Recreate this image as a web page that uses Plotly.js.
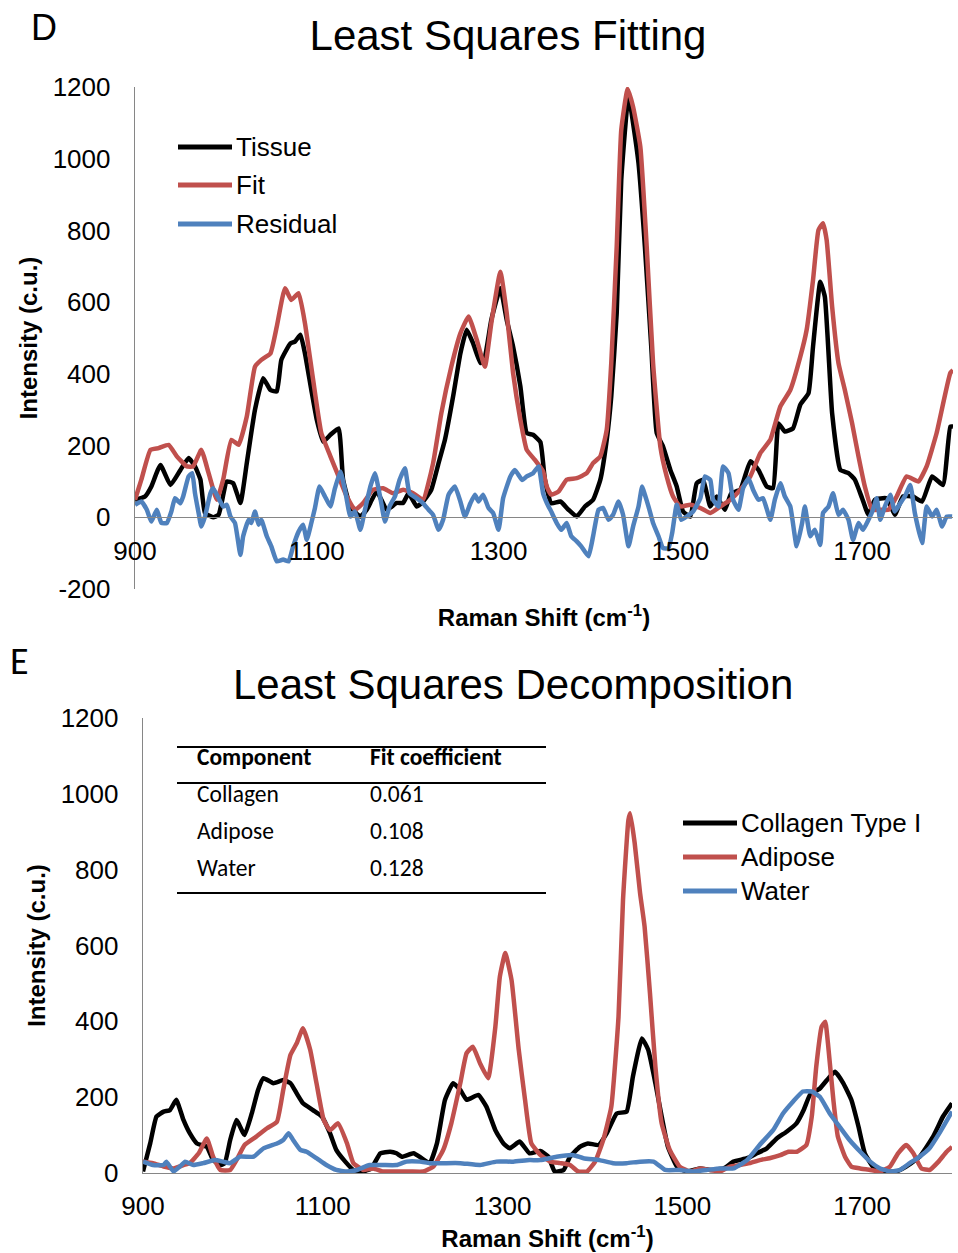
<!DOCTYPE html>
<html>
<head>
<meta charset="utf-8">
<script src="https://cdn.plot.ly/plotly-3.0.1.min.js"></script>
<style>html,body{margin:0;padding:0;background:#fff;}#chart{width:958px;height:1253px;}</style>
</head>
<body>
<div id="chart"></div>
<script>
// ---------- Panel D: Least Squares Fitting ----------
const tissueX = [900,911,918,928,939,950,959,966,972,977,986,992,1001,1008,1016,1023,1032,1041,1049,1056,1061,1071,1076,1082,1087,1094,1100,1107,1115,1124,1129,1137,1148,1155,1166,1177,1188,1195,1201,1210,1217,1226,1234,1241,1250,1258,1265,1272,1280,1285,1292,1302,1309,1316,1324,1331,1338,1346,1351,1358,1368,1377,1386,1395,1404,1412,1419,1424,1430,1435,1443,1448,1454,1461,1468,1474,1481,1489,1496,1503,1511,1518,1525,1533,1540,1549,1556,1566,1577,1586,1595,1602,1608,1615,1624,1632,1641,1646,1654,1659,1667,1676,1685,1692,1700,1707,1714,1727,1736,1745,1756,1766,1777,1789,1797,1800];
const tissueY = [49,58,86,146,90,132,165,142,105,12,0,7,100,95,40,151,300,388,355,351,439,485,490,509,457,355,272,211,230,248,104,30,2,21,72,21,40,40,67,30,44,77,151,216,337,457,523,485,430,448,550,639,550,476,365,235,230,210,105,39,44,21,2,30,49,105,216,337,569,941,1178,1099,987,755,476,235,197,132,86,16,2,95,105,30,58,21,67,77,156,132,86,81,262,239,248,314,346,476,657,615,290,132,123,105,53,7,49,53,7,58,58,44,114,90,253,253];

const fitX = [900,907,917,926,937,946,957,964,973,981,990,997,1006,1014,1023,1032,1039,1049,1056,1065,1072,1080,1087,1096,1105,1115,1124,1133,1142,1151,1162,1173,1184,1195,1206,1217,1228,1237,1248,1258,1267,1276,1285,1292,1302,1309,1316,1324,1331,1340,1349,1353,1358,1366,1375,1386,1397,1404,1412,1419,1424,1430,1435,1442,1448,1456,1463,1470,1478,1485,1492,1500,1511,1522,1533,1544,1555,1566,1577,1588,1599,1610,1621,1632,1639,1646,1652,1657,1661,1667,1674,1681,1689,1696,1703,1711,1720,1729,1738,1749,1762,1771,1782,1797,1800];
const fitY = [49,105,188,193,202,170,142,142,188,123,49,105,216,202,281,420,439,457,532,639,606,625,541,383,235,170,114,58,21,40,77,81,67,77,67,49,151,290,420,513,560,495,420,541,685,569,402,272,188,160,128,86,63,72,105,109,123,151,170,244,430,755,1080,1195,1145,1033,755,430,197,114,58,30,35,26,12,30,49,77,114,179,216,309,355,448,523,662,801,820,773,588,430,355,262,170,86,21,21,21,58,114,100,142,235,402,410];

const residualX = [900,907,913,918,924,929,935,940,944,950,953,959,963,966,970,973,977,983,986,992,997,1001,1005,1010,1016,1019,1025,1028,1032,1036,1039,1045,1050,1056,1063,1069,1074,1080,1085,1089,1094,1098,1103,1109,1115,1120,1126,1131,1137,1142,1148,1153,1159,1164,1170,1175,1180,1186,1191,1197,1202,1210,1217,1223,1228,1234,1239,1245,1252,1258,1263,1269,1274,1278,1283,1289,1294,1300,1305,1313,1318,1326,1331,1338,1344,1349,1355,1357,1364,1369,1375,1380,1386,1391,1399,1404,1410,1415,1421,1426,1432,1437,1443,1448,1454,1458,1461,1465,1470,1476,1481,1487,1491,1496,1501,1507,1514,1522,1527,1533,1536,1542,1547,1553,1558,1564,1569,1575,1580,1586,1591,1599,1604,1610,1615,1621,1628,1634,1637,1643,1648,1654,1657,1663,1668,1674,1679,1685,1690,1696,1701,1707,1712,1716,1720,1725,1731,1736,1742,1747,1753,1758,1766,1771,1777,1782,1788,1793,1799];
const residualY = [35,44,21,-12,21,-16,-16,16,53,39,58,114,123,67,12,-26,2,67,81,53,30,35,2,-16,-105,-53,-7,-16,16,-21,-7,-53,-81,-123,-118,-123,-81,-40,-21,-63,-16,26,86,58,30,81,128,77,2,16,-35,21,86,123,53,-12,30,58,104,137,67,53,39,21,7,-35,-7,63,86,44,2,39,63,44,63,26,12,-35,53,114,132,104,114,123,142,67,30,21,-16,-35,-16,-53,-67,-81,-109,-53,21,26,-7,7,44,7,-81,-26,30,86,63,30,-16,-53,-86,-86,-44,35,-7,2,16,53,114,104,49,30,142,123,49,21,81,109,77,49,53,-7,49,95,58,30,-81,-16,30,-53,-35,-77,12,30,67,7,21,-7,-63,-16,-35,-7,21,53,-7,30,63,16,39,58,90,12,-72,30,2,21,-26,2,2];

// ---------- Panel E: Least Squares Decomposition ----------
const collagenX = [900,908,915,923,930,937,945,952,960,971,978,986,991,997,1004,1013,1021,1028,1034,1045,1056,1064,1071,1078,1089,1099,1108,1115,1125,1134,1145,1154,1164,1175,1182,1188,1201,1210,1219,1227,1236,1245,1253,1260,1273,1282,1292,1301,1308,1319,1330,1342,1351,1358,1368,1375,1386,1395,1407,1416,1427,1438,1445,1455,1462,1470,1477,1484,1494,1505,1520,1531,1546,1557,1572,1583,1594,1605,1616,1627,1635,1642,1653,1664,1670,1679,1688,1696,1703,1712,1723,1738,1749,1764,1779,1790,1800];
const collagenY = [4,78,149,162,166,193,140,105,78,69,34,21,26,87,140,100,157,219,250,237,245,237,210,184,166,149,105,61,30,8,4,12,52,56,52,43,52,39,26,78,193,237,219,193,206,175,113,78,65,83,52,58,43,4,8,43,69,78,74,105,157,162,254,355,325,237,149,69,17,4,12,8,12,30,39,52,65,91,109,131,166,206,223,254,267,237,193,122,52,17,4,4,17,43,96,149,184];

const adiposeX = [900,911,923,934,945,952,962,971,978,986,997,1004,1013,1026,1038,1049,1056,1064,1071,1078,1086,1093,1101,1108,1117,1127,1134,1145,1156,1167,1182,1197,1212,1223,1234,1243,1253,1260,1267,1275,1284,1292,1297,1303,1310,1318,1325,1332,1342,1353,1364,1375,1384,1394,1403,1412,1421,1429,1434,1440,1442,1447,1453,1458,1464,1470,1477,1486,1497,1508,1520,1531,1542,1553,1564,1575,1586,1597,1609,1618,1627,1638,1644,1649,1655,1659,1662,1668,1673,1681,1688,1698,1709,1720,1731,1740,1749,1757,1766,1775,1785,1794,1800];
const adiposeY = [30,26,17,12,21,26,52,91,43,8,8,34,74,96,118,135,219,311,342,382,325,237,140,113,131,78,26,8,12,4,4,4,4,17,61,131,237,316,333,289,250,386,518,580,509,325,193,78,48,30,26,21,4,4,30,87,175,412,720,931,949,870,738,650,474,281,131,61,17,4,12,8,4,17,21,26,34,39,47,56,56,74,149,281,386,399,342,193,96,43,17,12,8,4,17,52,74,52,12,8,30,56,69];

const waterX = [900,911,923,926,934,941,947,956,967,980,989,997,1008,1023,1034,1049,1056,1062,1067,1075,1082,1093,1104,1115,1127,1138,1152,1167,1182,1193,1208,1219,1234,1253,1275,1293,1312,1330,1342,1360,1379,1390,1408,1423,1438,1453,1468,1481,1497,1512,1527,1542,1557,1572,1586,1601,1612,1623,1634,1644,1653,1664,1675,1686,1698,1709,1720,1731,1742,1753,1764,1775,1786,1800];
const waterY = [30,21,21,30,4,17,30,21,26,34,30,26,43,43,65,78,87,105,87,61,56,39,21,8,4,8,21,21,21,30,30,26,26,26,21,30,30,34,34,43,47,39,34,26,26,30,30,8,8,4,8,12,12,34,74,113,157,188,215,215,201,157,122,87,56,30,12,4,8,26,43,65,105,162];

const tableComponents = ['Collagen','Adipose','Water'];
const tableCoefficients = ['0.061','0.108','0.128'];
const xTicks = [900,1100,1300,1500,1700];
const yTicksD = [-200,0,200,400,600,800,1000,1200];
const yTicksE = [0,200,400,600,800,1000,1200];

// ---------- Styling ----------
const W = 958, H = 1253;
const px = v => v / W;
const py = v => 1 - v / H;
const BLACK = '#000000', RED = '#C0504D', BLUE = '#4F81BD', AXIS = '#868686';
const SANS = 'Liberation Sans, Arial, sans-serif';
const CAL = 'Carlito, Lato, sans-serif';
const LW = 4.5;

function tr(x, y, name, color, xa, ya) {
  return {x: x, y: y, name: name, type: 'scatter', mode: 'lines', xaxis: xa, yaxis: ya,
    line: {color: color, width: LW, shape: 'spline', smoothing: 0.4}, showlegend: false, hoverinfo: 'skip'};
}

const data = [
  tr(tissueX, tissueY, 'Tissue', BLACK, 'x', 'y'),
  tr(fitX, fitY, 'Fit', RED, 'x', 'y'),
  tr(residualX, residualY, 'Residual', BLUE, 'x', 'y'),
  tr(collagenX, collagenY, 'Collagen Type I', BLACK, 'x2', 'y2'),
  tr(adiposeX, adiposeY, 'Adipose', RED, 'x2', 'y2'),
  tr(waterX, waterY, 'Water', BLUE, 'x2', 'y2')
];

const tickFont = {family: SANS, size: 26, color: '#000'};
const axTitleFont = {family: SANS, size: 24, color: '#000'};

const shapes = [];
const annotations = [];

// custom legends
function legendItem(x0, x1, y, color, text, tx) {
  shapes.push({type: 'line', xref: 'paper', yref: 'paper', x0: px(x0), x1: px(x1), y0: py(y), y1: py(y),
    line: {color: color, width: 5}});
  annotations.push({xref: 'paper', yref: 'paper', x: px(tx), y: py(y), xanchor: 'left', yanchor: 'middle',
    text: text, showarrow: false, font: {family: SANS, size: 26, color: '#000'}});
}
legendItem(178, 232, 147, BLACK, 'Tissue', 234);
legendItem(178, 232, 185, RED, 'Fit', 234);
legendItem(178, 232, 224, BLUE, 'Residual', 234);
legendItem(683, 737, 823, BLACK, 'Collagen Type I', 739);
legendItem(683, 737, 857, RED, 'Adipose', 739);
legendItem(683, 737, 891, BLUE, 'Water', 739);

// table
[747, 783, 893].forEach(y => shapes.push({type: 'line', xref: 'paper', yref: 'paper', x0: px(177), x1: px(546),
  y0: py(y), y1: py(y), line: {color: '#000', width: 2}}));
const TF = 23.5;
annotations.push({xref: 'paper', yref: 'paper', x: px(195), y: py(757), xanchor: 'left', yanchor: 'middle',
  text: '<b>Component</b>', showarrow: false, font: {family: CAL, size: TF, color: '#000'}});
annotations.push({xref: 'paper', yref: 'paper', x: px(368), y: py(757), xanchor: 'left', yanchor: 'middle',
  text: '<b>Fit coefficient</b>', showarrow: false, font: {family: CAL, size: TF, color: '#000'}});
const rowY = [794, 831, 868];
tableComponents.forEach((c, i) => {
  annotations.push({xref: 'paper', yref: 'paper', x: px(195), y: py(rowY[i]), xanchor: 'left', yanchor: 'middle',
    text: c, showarrow: false, font: {family: CAL, size: TF, color: '#000'}});
  annotations.push({xref: 'paper', yref: 'paper', x: px(368), y: py(rowY[i]), xanchor: 'left', yanchor: 'middle',
    text: tableCoefficients[i], showarrow: false, font: {family: CAL, size: TF, color: '#000'}});
});

// panel letters and second title
annotations.push({xref: 'paper', yref: 'paper', x: px(44), y: py(28), xanchor: 'center', yanchor: 'middle',
  text: 'D', showarrow: false, font: {family: SANS, size: 36, color: '#000'}});
annotations.push({xref: 'paper', yref: 'paper', x: px(19), y: py(661), xanchor: 'center', yanchor: 'middle',
  text: 'E', showarrow: false, font: {family: CAL, size: 38, color: '#000'}});
annotations.push({xref: 'paper', yref: 'paper', x: px(513), y: py(684), xanchor: 'center', yanchor: 'middle',
  text: 'Least Squares Decomposition', showarrow: false, font: {family: SANS, size: 42, color: '#000'}});

const layout = {
  width: W, height: H,
  margin: {l: 0, r: 0, t: 0, b: 0},
  paper_bgcolor: '#fff', plot_bgcolor: '#fff',
  showlegend: false,
  title: {text: 'Least Squares Fitting', font: {family: SANS, size: 42, color: '#000'},
    x: px(508), xanchor: 'center', xref: 'paper', y: py(35), yanchor: 'middle', yref: 'paper'},
  xaxis: {domain: [px(135), px(953)], range: [900, 1800], anchor: 'free', position: py(517),
    tickvals: xTicks, ticktext: xTicks.map(String), ticks: '', showline: true, linecolor: AXIS, linewidth: 1.3,
    showgrid: false, zeroline: false, tickfont: tickFont, ticklabelstandoff: 10,
    title: {text: '<b>Raman Shift (cm<sup>-1</sup>)</b>', font: axTitleFont, standoff: 44}},
  yaxis: {domain: [py(589), py(87)], range: [-200, 1200], tickvals: yTicksD, ticktext: yTicksD.map(String),
    anchor: 'x', ticks: '',
    showline: true, linecolor: AXIS, linewidth: 1.3, showgrid: false, zeroline: false,
    tickfont: tickFont, ticklabelstandoff: 18,
    title: {text: '<b>Intensity (c.u.)</b>', font: axTitleFont, standoff: 8}},
  xaxis2: {domain: [px(143), px(952)], range: [900, 1800], anchor: 'y2',
    tickvals: xTicks, ticktext: xTicks.map(String), ticks: '', showline: true, linecolor: AXIS, linewidth: 1.3,
    showgrid: false, zeroline: false, tickfont: tickFont, ticklabelstandoff: 9,
    title: {text: '<b>Raman Shift (cm<sup>-1</sup>)</b>', font: axTitleFont, standoff: 10}},
  yaxis2: {domain: [py(1173), py(718)], range: [0, 1200], tickvals: yTicksE, ticktext: yTicksE.map(String),
    anchor: 'x2', ticks: '',
    showline: true, linecolor: AXIS, linewidth: 1.3, showgrid: false, zeroline: false,
    tickfont: tickFont, ticklabelstandoff: 18,
    title: {text: '<b>Intensity (c.u.)</b>', font: axTitleFont, standoff: 8}},
  shapes: shapes,
  annotations: annotations
};

Plotly.newPlot('chart', data, layout, {staticPlot: true, displayModeBar: false});
</script>
</body>
</html>
